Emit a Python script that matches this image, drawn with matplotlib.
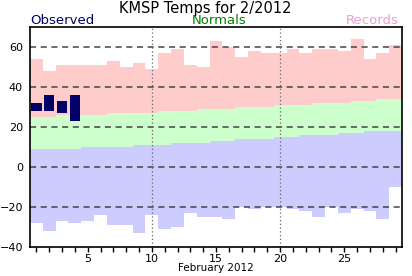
import numpy as np
import matplotlib
matplotlib.use("Agg")
import matplotlib.pyplot as plt

# daily values for February 2012 (deg F)
days = list(range(1, 30))
record_high = [54, 48, 51, 51, 51, 51, 53, 50, 52, 49, 57, 59, 51, 50, 63,
               60, 55, 58, 57, 57, 59, 57, 59, 59, 58, 64, 54, 57, 61]
normal_high = [25, 25, 26, 26, 26, 26, 27, 27, 27, 27, 28, 28, 28, 29, 29,
               29, 30, 30, 30, 31, 31, 31, 32, 32, 32, 33, 33, 34, 34]
normal_low = [9, 9, 9, 9, 10, 10, 10, 10, 11, 11, 11, 12, 12, 12, 13,
              13, 14, 14, 14, 15, 15, 16, 16, 16, 17, 17, 18, 18, 18]
record_low = [-28, -32, -27, -28, -27, -24, -29, -29, -33, -24, -31, -30, -23, -25, -25,
              -26, -20, -21, -20, -20, -21, -22, -25, -20, -23, -21, -22, -26, -10]
obs_days = [1, 2, 3, 4]
obs_high = [32, 36, 33, 36]
obs_low = [28, 28, 27, 23]

fig = plt.figure(figsize=(4.12, 2.76), dpi=100)
ax = fig.add_axes([30 / 412, 1 - 246.7 / 276, 372 / 412, 219.7 / 276])

edges = np.arange(0.5, len(days) + 1, 1.0)

# record ranges / normal range
ax.stairs(record_high, edges, baseline=normal_high, fill=True, color="#ffcccc", zorder=1)
ax.stairs(normal_low, edges, baseline=record_low, fill=True, color="#ccccff", zorder=1)
ax.stairs(normal_high, edges, baseline=normal_low, fill=True, color="#ccffcc", zorder=1)

# observed
obs_h = np.array(obs_high) - np.array(obs_low)
ax.bar(obs_days, obs_h, bottom=obs_low, width=0.8, color="#000066", zorder=3)

for y in [-20, 0, 20, 40, 60]:
    ax.axhline(y, color="#444444", lw=1.1, dashes=(4, 3), zorder=2)
for x in [10, 20]:
    ax.axvline(x, color="#666666", lw=0.9, dashes=(1, 2), zorder=2)

ax.set_xlim(0.5, 29.5)
ax.set_ylim(-40, 69.8)
ax.set_yticks([-40, -20, 0, 20, 40, 60])
ax.set_xticks(days)
ax.set_xticklabels([str(d) if d % 5 == 0 else "" for d in days])
ax.tick_params(axis="y", length=0, pad=5, labelsize=8)
ax.tick_params(axis="x", length=3.6, width=1, pad=1.5, labelsize=8, direction="out")
for s in ax.spines.values():
    s.set_linewidth(1.2)
    s.set_zorder(4)

fig.text(216 / 412, 1 - 271 / 276, "February 2012", ha="center", va="baseline", fontsize=7.5)

fig.text(205 / 412, 1 - 13 / 276, "KMSP Temps for 2/2012", ha="center", va="baseline", fontsize=10.5)
fig.text(30 / 412, 1 - 24 / 276, "Observed", ha="left", va="baseline", fontsize=9.5, color="#000066")
fig.text(219 / 412, 1 - 24 / 276, "Normals", ha="center", va="baseline", fontsize=9.5, color="#008000")
fig.text(399 / 412, 1 - 24 / 276, "Records", ha="right", va="baseline", fontsize=9.5, color="#e8a0d8")

fig.savefig("out.png", dpi=100)
